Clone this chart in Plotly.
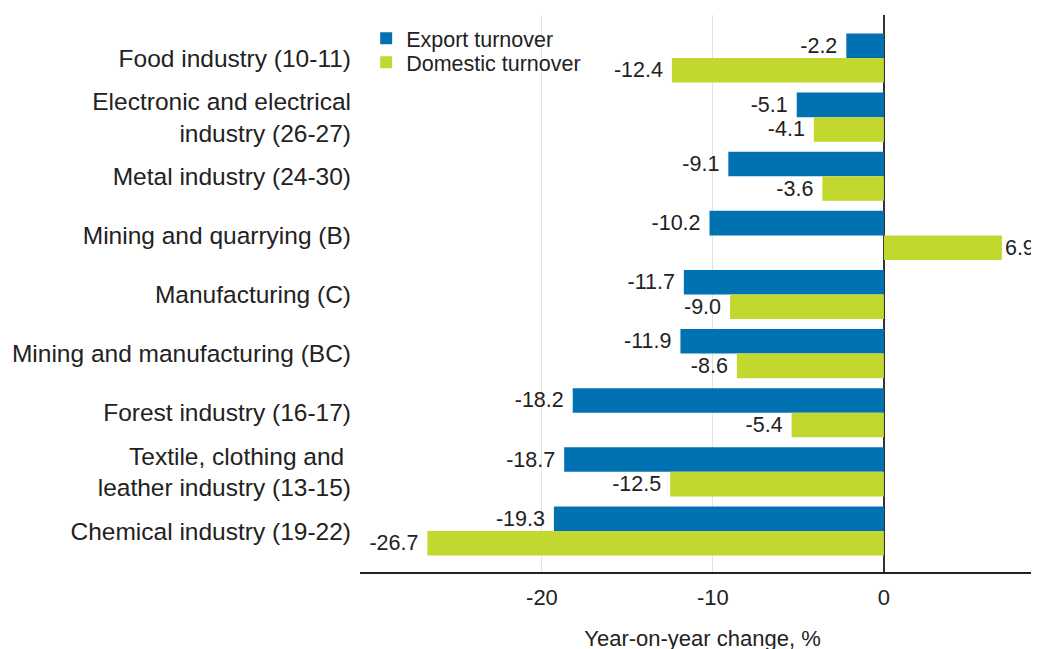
import plotly.graph_objects as go

categories = [
    "Food industry (10-11)",
    "Electronic and electrical<br>industry (26-27)",
    "Metal industry (24-30)",
    "Mining and quarrying (B)",
    "Manufacturing (C)",
    "Mining and manufacturing (BC)",
    "Forest industry (16-17)",
    "Textile, clothing and\u00a0<br>leather industry (13-15)",
    "Chemical industry (19-22)",
]
export_turnover = [-2.2, -5.1, -9.1, -10.2, -11.7, -11.9, -18.2, -18.7, -19.3]
domestic_turnover = [-12.4, -4.1, -3.6, 6.9, -9.0, -8.6, -5.4, -12.5, -26.7]
series_names = ["Export turnover", "Domestic turnover"]
colors = ["#0072B2", "#C2D82F"]

FONT = "Liberation Sans, Arial, sans-serif"
NB = "\u00a0"


def labels(vals):
    out = []
    for v in vals:
        s = f"{v:.1f}"
        out.append(s + NB if v < 0 else s)
    return out


fig = go.Figure()
legends = ["legend", "legend2"]
for name, vals, col, lg in zip(series_names, [export_turnover, domestic_turnover], colors, legends):
    fig.add_trace(go.Bar(
        y=categories, x=vals, name=name, orientation="h",
        marker=dict(color=col, line=dict(width=0)),
        text=labels(vals), textposition="outside",
        textfont=dict(family=FONT, size=21.5, color="#222"),
        constraintext="none", cliponaxis=False,
        hoverinfo="x+y", legend=lg,
    ))

leg_common = dict(
    xanchor="left", yanchor="top",
    bgcolor="rgba(0,0,0,0)", font=dict(family=FONT, size=21.5, color="#222"),
    itemwidth=30,
)

fig.update_layout(
    width=1039, height=649,
    margin=dict(l=352, r=2, t=7, b=85),
    paper_bgcolor="white", plot_bgcolor="white",
    barmode="group", bargap=0.17, bargroupgap=0,
    font=dict(family=FONT, color="#222"),
    showlegend=True,
    legend=dict(x=0.009, y=0.995, **leg_common),
    legend2=dict(x=0.009, y=0.952, **leg_common),
    xaxis=dict(
        range=[-30.64, 9.42],
        tickvals=[-20, -10, 0], ticktext=["-20", "-10", "0"],
        showgrid=True, gridcolor="#e3e3e3", gridwidth=1,
        zeroline=True, zerolinecolor="#333", zerolinewidth=1.5,
        showline=True, linecolor="#222", linewidth=1.5,
        ticks="", tickfont=dict(family=FONT, size=22, color="#222"),
        ticklabelstandoff=5, automargin=False,
        title=dict(text="Year-on-year change, %", font=dict(family=FONT, size=22, color="#222"), standoff=21),
    ),
    yaxis=dict(
        type="category",
        range=[8.694, -0.728],
        showgrid=False, zeroline=False, showline=False,
        ticks="", tickfont=dict(family=FONT, size=24.5, color="#222"),
        ticklabelstandoff=8, automargin=False,
    ),
)

fig.write_html("out.html")
